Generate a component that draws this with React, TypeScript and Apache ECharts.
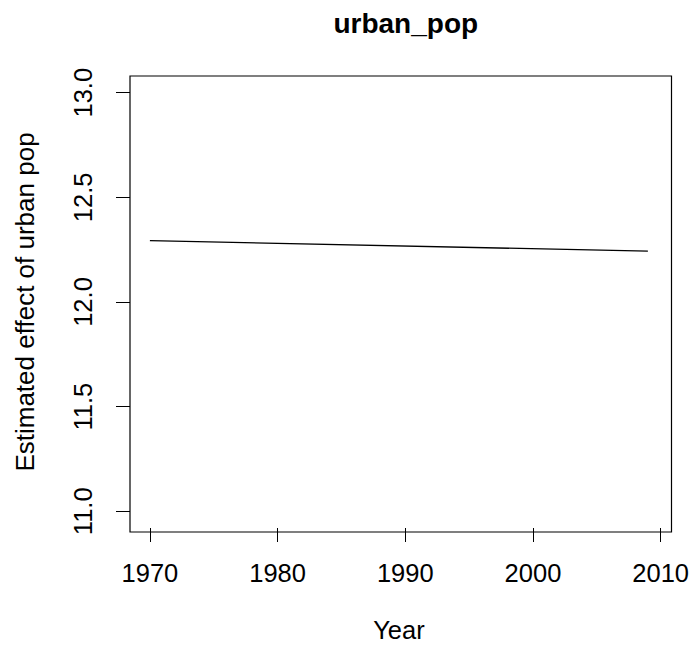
import React, { useEffect, useRef } from "react";
import * as echarts from "echarts";

// Fitted effect of urban population over the study years
const years = [1970, 2009];
const effect = [12.293, 12.243];

const xTicks = [1970, 1980, 1990, 2000, 2010];
const yTicks = [11.0, 11.5, 12.0, 12.5, 13.0];

const FONT = "Liberation Sans, Arial, Helvetica, sans-serif";

export default function App() {
  const ref = useRef<HTMLDivElement>(null);

  useEffect(() => {
    if (!ref.current) return;
    const chart = echarts.init(ref.current, undefined, { renderer: "svg" });

    const gridLeft = 130;
    const gridTop = 76;
    const gridRight = 20.5;
    const gridBottom = 116;
    const W = 692;
    const H = 648;

    chart.setOption({
      animation: false,
      backgroundColor: "#ffffff",
      textStyle: { fontFamily: FONT },
      title: {
        text: "urban_pop",
        left: (gridLeft + (W - gridRight)) / 2,
        top: 4,
        textAlign: "center",
        textStyle: { fontFamily: FONT, fontWeight: "bold", fontSize: 28, color: "#000" },
      },
      grid: { left: gridLeft, right: gridRight, top: gridTop, bottom: gridBottom, containLabel: false },
      xAxis: {
        type: "value",
        min: 1968.44,
        max: 2010.56,
        name: "Year",
        nameLocation: "middle",
        nameGap: 89,
        nameTextStyle: { fontFamily: FONT, fontSize: 25.5, color: "#000" },
        axisLine: { show: false },
        splitLine: { show: false },
        axisTick: {
          show: true,
          length: 14,
          customValues: xTicks,
          lineStyle: { color: "#000", width: 1 },
        },
        axisLabel: {
          customValues: xTicks,
          margin: 32,
          fontFamily: FONT,
          fontSize: 25.5,
          color: "#000",
          formatter: (v: number) => String(v),
        },
      },
      yAxis: {
        type: "value",
        min: 10.92,
        max: 13.08,
        name: "Estimated effect of urban pop",
        nameLocation: "middle",
        nameGap: 92,
        nameRotate: 90,
        nameTextStyle: { fontFamily: FONT, fontSize: 26, color: "#000" },
        axisLine: { show: false },
        splitLine: { show: false },
        axisTick: {
          show: true,
          length: 14,
          customValues: yTicks,
          lineStyle: { color: "#000", width: 1 },
        },
        axisLabel: {
          customValues: yTicks,
          rotate: 90,
          margin: 34,
          fontFamily: FONT,
          fontSize: 25.5,
          color: "#000",
          formatter: (v: number) => v.toFixed(1),
        },
      },
      graphic: [
        {
          type: "rect",
          shape: { x: gridLeft, y: gridTop, width: W - gridRight - gridLeft, height: H - gridBottom - gridTop },
          style: { fill: "none", stroke: "#000", lineWidth: 1.2 },
          silent: true,
          z: 10,
        },
      ],
      series: [
        {
          type: "line",
          data: years.map((y, i) => [y, effect[i]]),
          showSymbol: false,
          lineStyle: { color: "#000", width: 1.3 },
        },
      ],
    });

    return () => chart.dispose();
  }, []);

  return <div ref={ref} style={{ width: 692, height: 648, position: "absolute", left: 0, top: 0 }} />;
}
